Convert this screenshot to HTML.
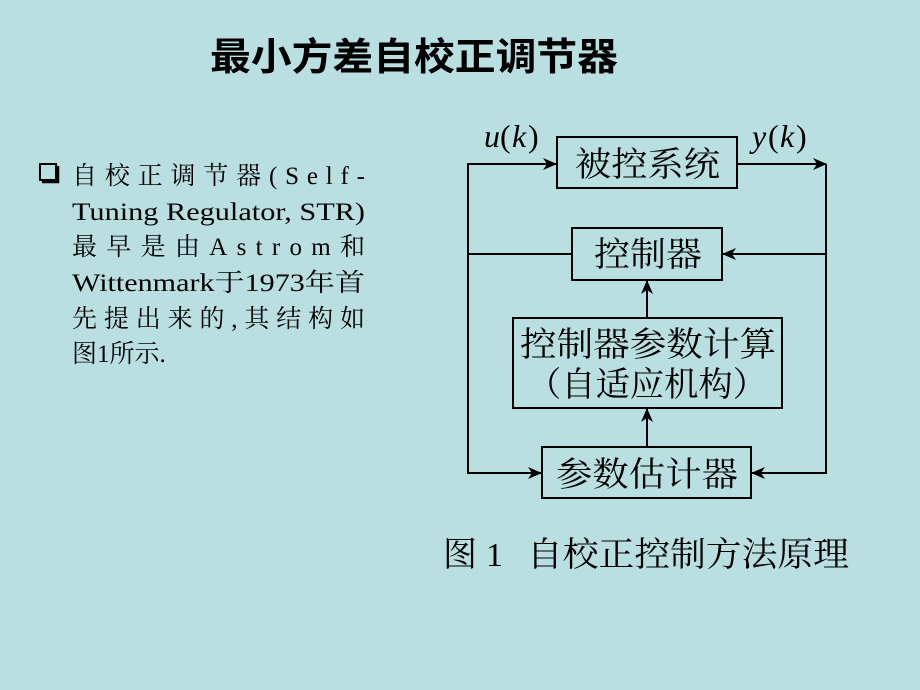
<!DOCTYPE html>
<html><head><meta charset="utf-8"><style>
html,body{margin:0;padding:0;background:#b9dfe1;}
svg{display:block;}
text{font-family:"Liberation Serif","Noto Serif CJK SC",serif;fill:#000;}
.h{font-family:"Liberation Sans","Noto Sans CJK SC",sans-serif;font-weight:bold;}
</style></head><body>
<svg width="920" height="690" viewBox="0 0 920 690" xmlns="http://www.w3.org/2000/svg">
<rect width="920" height="690" fill="#b9dfe1"/>
<defs><marker id="a" markerWidth="14" markerHeight="12" refX="13" refY="6" orient="auto" markerUnits="userSpaceOnUse"><path d="M0,0 L14,6 L0,12 L4,6 Z" fill="#000"/></marker></defs>
<text class="h" x="210" y="70" font-size="38" textLength="408" lengthAdjust="spacingAndGlyphs">最小方差自校正调节器</text>
<rect x="40" y="164" width="16" height="16" fill="none" stroke="#000" stroke-width="2"/>
<path d="M42,182 L58,182 L58,166" fill="none" stroke="#000" stroke-width="2.5"/>
<g font-size="25">
<text x="72" y="184" textLength="293" lengthAdjust="spacing">自校正调节器(Self-</text>
<text x="72" y="220" textLength="293" lengthAdjust="spacingAndGlyphs">Tuning Regulator, STR)</text>
<text x="72" y="255" textLength="293" lengthAdjust="spacing">最早是由Astrom和</text>
<text x="72" y="291" textLength="293" lengthAdjust="spacingAndGlyphs">Wittenmark于1973年首</text>
<text x="72" y="327" textLength="293" lengthAdjust="spacing">先提出来的,其结构如</text>
<text x="72" y="362">图1所示.</text>
</g>
<g fill="none" stroke="#000" stroke-width="2">
<rect x="557" y="137" width="180" height="51"/>
<rect x="572" y="228" width="150" height="52"/>
<rect x="513" y="318" width="269" height="90"/>
<rect x="542" y="447" width="209" height="51"/>
<path d="M572,254 L468,254 L468,164 L556,164" marker-end="url(#a)"/>
<path d="M468,254 L468,473 L541,473" marker-end="url(#a)"/>
<path d="M737,164 L826,164" marker-end="url(#a)"/>
<path d="M826,164 L826,473 L752,473" marker-end="url(#a)"/>
<path d="M826,254 L723,254" marker-end="url(#a)"/>
<path d="M647,318 L647,281" marker-end="url(#a)"/>
<path d="M647,447 L647,409" marker-end="url(#a)"/>
</g>
<g font-size="32">
<text x="484" y="147" font-style="italic">u</text><text x="500" y="147">(</text><text x="512" y="147" font-style="italic">k</text><text x="528" y="147">)</text>
<text x="752" y="147" font-style="italic">y</text><text x="768" y="147">(</text><text x="780" y="147" font-style="italic">k</text><text x="796" y="147">)</text>
</g>
<g font-size="34">
<text x="575" y="176" textLength="145" lengthAdjust="spacingAndGlyphs">被控系统</text>
<text x="594" y="266" textLength="108" lengthAdjust="spacingAndGlyphs">控制器</text>
<text x="520" y="356" textLength="256" lengthAdjust="spacingAndGlyphs">控制器参数计算</text>
<text x="527" y="396" textLength="240" lengthAdjust="spacingAndGlyphs">（自适应机构）</text>
<text x="556" y="486" textLength="182" lengthAdjust="spacingAndGlyphs">参数估计器</text>
<text x="443" y="566">图</text>
<text x="486" y="566">1</text>
<text x="527" y="566" textLength="322" lengthAdjust="spacingAndGlyphs">自校正控制方法原理</text>
</g>
</svg>
</body></html>
